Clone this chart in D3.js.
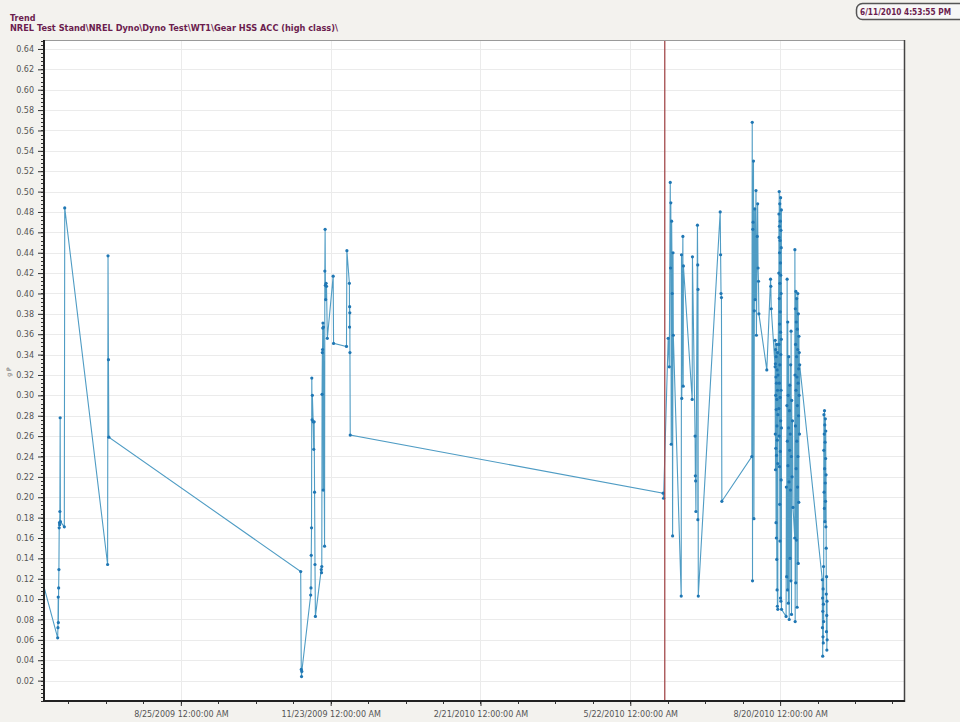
<!DOCTYPE html>
<html>
<head>
<meta charset="utf-8">
<script src="https://cdn.jsdelivr.net/npm/d3@7"></script>
<style>
body { margin: 0; background: #f3f2ee; }
svg { display: block; font-family: "DejaVu Sans", Verdana, sans-serif; }
</style>
</head>
<body>
<div id="chart"></div>
<script>
// trend of the gear HSS accelerometer, one reading = [time, g peak]
var june2009 = [
	["2009-06-02 12:00", 0.120],
	["2009-06-12 00:00", 0.062],
	["2009-06-12 04:00", 0.072],
	["2009-06-12 08:00", 0.102],
	["2009-06-12 10:00", 0.077],
	["2009-06-12 14:00", 0.111],
	["2009-06-12 18:00", 0.129],
	["2009-06-12 22:00", 0.170],
	["2009-06-13 02:00", 0.175],
	["2009-06-13 04:00", 0.173],
	["2009-06-13 08:00", 0.186],
	["2009-06-13 12:00", 0.278],
	["2009-06-13 16:00", 0.176],
	["2009-06-16 00:00", 0.171],
	["2009-06-16 06:00", 0.484]
];

var july2009 = [
	["2009-07-12 00:00", 0.134],
	["2009-07-12 06:00", 0.437],
	["2009-07-12 12:00", 0.335],
	["2009-07-12 18:00", 0.259]
];

var nov2009 = [
	["2009-11-05 00:00", 0.127],
	["2009-11-05 08:00", 0.031],
	["2009-11-05 12:00", 0.024],
	["2009-11-05 16:00", 0.029],
	["2009-11-11 00:00", 0.104],
	["2009-11-11 04:00", 0.111],
	["2009-11-11 08:00", 0.143],
	["2009-11-11 12:00", 0.170],
	["2009-11-11 16:00", 0.317],
	["2009-11-11 20:00", 0.276],
	["2009-11-12 00:00", 0.300],
	["2009-11-12 12:00", 0.274],
	["2009-11-12 20:00", 0.247],
	["2009-11-13 02:00", 0.274],
	["2009-11-13 08:00", 0.205],
	["2009-11-13 14:00", 0.134],
	["2009-11-13 20:00", 0.083],
	["2009-11-17 08:00", 0.129],
	["2009-11-17 12:00", 0.126],
	["2009-11-17 16:00", 0.132],
	["2009-11-17 20:00", 0.301],
	["2009-11-18 00:00", 0.342],
	["2009-11-18 03:00", 0.345],
	["2009-11-18 06:00", 0.366],
	["2009-11-18 09:00", 0.371],
	["2009-11-18 12:00", 0.207],
	["2009-11-18 16:00", 0.367],
	["2009-11-19 08:00", 0.152],
	["2009-11-19 12:00", 0.422],
	["2009-11-19 16:00", 0.463],
	["2009-11-19 20:00", 0.408],
	["2009-11-20 00:00", 0.394],
	["2009-11-20 06:00", 0.410],
	["2009-11-20 12:00", 0.407],
	["2009-11-21 00:00", 0.356],
	["2009-11-24 12:00", 0.417],
	["2009-11-24 18:00", 0.351],
	["2009-12-02 12:00", 0.348],
	["2009-12-02 18:00", 0.442],
	["2009-12-04 06:00", 0.410],
	["2009-12-04 08:00", 0.367],
	["2009-12-04 10:00", 0.387],
	["2009-12-04 12:00", 0.381],
	["2009-12-04 14:00", 0.342],
	["2009-12-04 18:00", 0.261]
];

var june2010 = [
	["2010-06-10 18:00", 0.204],
	["2010-06-11 00:00", 0.199],
	["2010-06-13 18:00", 0.356],
	["2010-06-14 10:00", 0.328],
	["2010-06-15 00:00", 0.509],
	["2010-06-15 04:00", 0.425],
	["2010-06-15 08:00", 0.489],
	["2010-06-15 14:00", 0.252],
	["2010-06-15 20:00", 0.471],
	["2010-06-16 04:00", 0.400],
	["2010-06-16 10:00", 0.162],
	["2010-06-16 16:00", 0.440],
	["2010-06-16 20:00", 0.359],
	["2010-06-21 14:00", 0.103],
	["2010-06-21 18:00", 0.438],
	["2010-06-21 22:00", 0.297],
	["2010-06-22 14:00", 0.456],
	["2010-06-22 18:00", 0.309],
	["2010-06-22 22:00", 0.427],
	["2010-06-28 04:00", 0.296],
	["2010-06-28 08:00", 0.436],
	["2010-06-29 22:00", 0.260],
	["2010-06-30 02:00", 0.221],
	["2010-06-30 06:00", 0.216],
	["2010-06-30 10:00", 0.186],
	["2010-07-01 08:00", 0.467],
	["2010-07-01 12:00", 0.428],
	["2010-07-01 14:00", 0.178],
	["2010-07-01 16:00", 0.404],
	["2010-07-01 20:00", 0.103],
	["2010-07-15 00:00", 0.480],
	["2010-07-15 06:00", 0.438],
	["2010-07-15 12:00", 0.400],
	["2010-07-15 18:00", 0.396],
	["2010-07-16 00:00", 0.196]
];

var aug2010 = [
	["2010-08-03 00:00", 0.240],
	["2010-08-03 06:00", 0.568],
	["2010-08-03 10:00", 0.118],
	["2010-08-03 14:00", 0.463],
	["2010-08-03 18:00", 0.470],
	["2010-08-04 00:00", 0.530],
	["2010-08-04 06:00", 0.179],
	["2010-08-04 12:00", 0.383],
	["2010-08-04 18:00", 0.483],
	["2010-08-05 00:00", 0.394],
	["2010-08-05 12:00", 0.501],
	["2010-08-05 18:00", 0.359],
	["2010-08-06 06:00", 0.456],
	["2010-08-06 12:00", 0.488],
	["2010-08-06 18:00", 0.425],
	["2010-08-07 00:00", 0.412],
	["2010-08-07 06:00", 0.380],
	["2010-08-12 00:00", 0.325],
	["2010-08-14 06:00", 0.414],
	["2010-08-14 10:00", 0.407],
	["2010-08-14 16:00", 0.385],
	["2010-08-17 00:00", 0.328],
	["2010-08-17 01:00", 0.354],
	["2010-08-17 02:30", 0.262],
	["2010-08-17 04:00", 0.331],
	["2010-08-17 05:30", 0.227],
	["2010-08-17 07:00", 0.345],
	["2010-08-17 08:30", 0.300],
	["2010-08-17 10:00", 0.248],
	["2010-08-17 11:30", 0.318],
	["2010-08-17 13:00", 0.175],
	["2010-08-17 14:30", 0.338],
	["2010-08-17 16:00", 0.286],
	["2010-08-17 17:30", 0.160],
	["2010-08-17 19:00", 0.312],
	["2010-08-17 20:30", 0.241],
	["2010-08-17 22:00", 0.350],
	["2010-08-17 23:30", 0.139],
	["2010-08-18 01:00", 0.296],
	["2010-08-18 02:30", 0.270],
	["2010-08-18 04:00", 0.109],
	["2010-08-18 05:30", 0.325],
	["2010-08-18 07:00", 0.256],
	["2010-08-18 08:30", 0.093],
	["2010-08-18 10:00", 0.305],
	["2010-08-18 11:30", 0.342],
	["2010-08-18 13:00", 0.233],
	["2010-08-18 14:30", 0.090],
	["2010-08-18 16:00", 0.281],
	["2010-08-18 17:30", 0.320],
	["2010-08-19 05:00", 0.420],
	["2010-08-19 06:00", 0.287],
	["2010-08-19 07:00", 0.478],
	["2010-08-19 08:00", 0.350],
	["2010-08-19 09:00", 0.455],
	["2010-08-19 10:00", 0.260],
	["2010-08-19 11:00", 0.500],
	["2010-08-19 12:00", 0.395],
	["2010-08-19 13:00", 0.312],
	["2010-08-19 14:00", 0.466],
	["2010-08-19 15:00", 0.230],
	["2010-08-19 16:00", 0.440],
	["2010-08-19 17:00", 0.370],
	["2010-08-19 18:00", 0.193],
	["2010-08-19 19:00", 0.488],
	["2010-08-19 20:00", 0.330],
	["2010-08-19 21:00", 0.410],
	["2010-08-19 22:00", 0.157],
	["2010-08-19 23:00", 0.452],
	["2010-08-20 00:00", 0.298],
	["2010-08-20 01:00", 0.382],
	["2010-08-20 02:00", 0.471],
	["2010-08-20 03:00", 0.245],
	["2010-08-20 04:00", 0.430],
	["2010-08-20 05:00", 0.101],
	["2010-08-20 06:00", 0.362],
	["2010-08-20 07:00", 0.494],
	["2010-08-20 08:00", 0.275],
	["2010-08-20 09:00", 0.418],
	["2010-08-20 10:00", 0.340],
	["2010-08-20 11:00", 0.098],
	["2010-08-20 12:00", 0.462],
	["2010-08-20 13:00", 0.305],
	["2010-08-20 14:00", 0.400],
	["2010-08-20 15:00", 0.217],
	["2010-08-20 16:00", 0.445],
	["2010-08-20 17:00", 0.355],
	["2010-08-20 18:00", 0.482],
	["2010-08-20 19:00", 0.268],
	["2010-08-20 20:00", 0.090],
	["2010-08-23 14:00", 0.083],
	["2010-08-23 18:00", 0.210],
	["2010-08-23 22:00", 0.122],
	["2010-08-24 02:00", 0.290],
	["2010-08-24 05:00", 0.414],
	["2010-08-24 08:00", 0.255],
	["2010-08-24 11:00", 0.109],
	["2010-08-24 14:00", 0.372],
	["2010-08-24 17:00", 0.231],
	["2010-08-24 20:00", 0.300],
	["2010-08-24 23:00", 0.096],
	["2010-08-25 02:00", 0.268],
	["2010-08-25 05:00", 0.338],
	["2010-08-25 08:00", 0.215],
	["2010-08-25 11:00", 0.080],
	["2010-08-25 14:00", 0.285],
	["2010-08-25 17:00", 0.246],
	["2010-08-25 20:00", 0.310],
	["2010-08-25 23:00", 0.140],
	["2010-08-26 02:00", 0.262],
	["2010-08-26 05:00", 0.207],
	["2010-08-26 08:00", 0.330],
	["2010-08-26 11:00", 0.118],
	["2010-08-26 14:00", 0.363],
	["2010-08-26 17:00", 0.240],
	["2010-08-26 20:00", 0.085],
	["2010-08-26 23:00", 0.295],
	["2010-08-27 04:00", 0.220],
	["2010-08-27 10:00", 0.275],
	["2010-08-27 18:00", 0.190],
	["2010-08-28 19:00", 0.160],
	["2010-08-28 21:00", 0.443],
	["2010-08-28 23:00", 0.320],
	["2010-08-29 01:00", 0.078],
	["2010-08-29 03:00", 0.385],
	["2010-08-29 05:00", 0.270],
	["2010-08-29 07:00", 0.350],
	["2010-08-29 09:00", 0.116],
	["2010-08-29 11:00", 0.402],
	["2010-08-29 13:00", 0.305],
	["2010-08-29 15:00", 0.228],
	["2010-08-29 17:00", 0.372],
	["2010-08-29 19:00", 0.158],
	["2010-08-29 21:00", 0.338],
	["2010-08-29 23:00", 0.395],
	["2010-08-30 01:00", 0.255],
	["2010-08-30 03:00", 0.318],
	["2010-08-30 05:00", 0.092],
	["2010-08-30 07:00", 0.365],
	["2010-08-30 09:00", 0.290],
	["2010-08-30 11:00", 0.210],
	["2010-08-30 13:00", 0.345],
	["2010-08-30 15:00", 0.400],
	["2010-08-30 17:00", 0.240],
	["2010-08-30 19:00", 0.312],
	["2010-08-30 21:00", 0.135],
	["2010-08-30 23:00", 0.380],
	["2010-08-31 01:00", 0.280],
	["2010-08-31 03:00", 0.326],
	["2010-08-31 05:00", 0.195],
	["2010-08-31 07:00", 0.358],
	["2010-08-31 09:00", 0.300],
	["2010-08-31 12:00", 0.342],
	["2010-08-31 15:00", 0.262],
	["2010-08-31 18:00", 0.330]
];

var sep2010 = [
	["2010-09-14 08:00", 0.119],
	["2010-09-14 10:00", 0.072],
	["2010-09-14 12:00", 0.101],
	["2010-09-14 14:00", 0.044],
	["2010-09-14 16:00", 0.088],
	["2010-09-14 18:00", 0.063],
	["2010-09-14 20:00", 0.110],
	["2010-09-14 22:00", 0.057],
	["2010-09-15 00:00", 0.095],
	["2010-09-15 02:00", 0.132],
	["2010-09-15 04:00", 0.078],
	["2010-09-15 06:00", 0.246],
	["2010-09-15 08:00", 0.281],
	["2010-09-15 10:00", 0.205],
	["2010-09-15 12:00", 0.262],
	["2010-09-15 14:00", 0.189],
	["2010-09-15 16:00", 0.285],
	["2010-09-15 18:00", 0.228],
	["2010-09-15 20:00", 0.271],
	["2010-09-15 22:00", 0.176],
	["2010-09-16 00:00", 0.254],
	["2010-09-16 02:00", 0.214],
	["2010-09-16 04:00", 0.277],
	["2010-09-16 06:00", 0.196],
	["2010-09-16 08:00", 0.238],
	["2010-09-16 10:00", 0.265],
	["2010-09-16 12:00", 0.171],
	["2010-09-16 14:00", 0.222],
	["2010-09-16 16:00", 0.150],
	["2010-09-16 18:00", 0.105],
	["2010-09-16 20:00", 0.068],
	["2010-09-16 22:00", 0.122],
	["2010-09-17 00:00", 0.084],
	["2010-09-17 02:00", 0.050],
	["2010-09-17 04:00", 0.098],
	["2010-09-17 06:00", 0.060]
];

var xTickDates = ["2009-08-25", "2009-11-23", "2010-02-21", "2010-05-22", "2010-08-20"];
var yTickValues = [0.02, 0.04, 0.06, 0.08, 0.10, 0.12, 0.14, 0.16, 0.18, 0.20, 0.22,
	0.24, 0.26, 0.28, 0.30, 0.32, 0.34, 0.36, 0.38, 0.40, 0.42, 0.44, 0.46, 0.48,
	0.50, 0.52, 0.54, 0.56, 0.58, 0.60, 0.62, 0.64];
var timeDomain = ["2009-06-03 19:00", "2010-11-02 10:00"];
var cursorTime = "2010-06-11 16:53";
var cursorLabel = "6/11/2010 4:53:55 PM";
var titleLines = ["Trend", "NREL Test Stand\\NREL Dyno\\Dyno Test\\WT1\\Gear HSS ACC (high class)\\"];

var width = 960,
	height = 722,
	LEFT = 44,
	RIGHT = 904,
	TOP = 40,
	BOTTOM = 701,
	TITLE_COLOR = "#6b1d4e",
	LINE_COLOR = "#4f9cc4",
	DOT_COLOR = "#1f77b4";

var parseTime = d3.timeParse("%Y-%m-%d %H:%M"),
	parseDay = d3.timeParse("%Y-%m-%d"),
	formatTick = d3.timeFormat("%-m/%-d/%Y %-I:%M:%S %p");

var readings = [].concat(june2009, july2009, nov2009, june2010, aug2010, sep2010)
	.map(function(d) { return { t: parseTime(d[0]), v: d[1] }; });

var x = d3.scaleTime()
	.domain(timeDomain.map(parseTime))
	.range([LEFT, RIGHT]);

var y = d3.scaleLinear()
	.domain([0, 0.6488])
	.range([BOTTOM, TOP]);

var svg = d3.select("#chart").append("svg")
	.attr("width", width)
	.attr("height", height);

svg.append("rect")
	.attr("width", width)
	.attr("height", height)
	.style("fill", "#f3f2ee");

// header text
svg.selectAll(".title")
	.data(titleLines)
	.enter()
	.append("text")
	.attr("x", 10)
	.attr("y", function(d, i) { return 21 + i * 10; })
	.attr("textLength", function(d, i) { return i ? 328 : null; })
	.attr("lengthAdjust", "spacingAndGlyphs")
	.text(function(d) { return d; })
	.style("fill", TITLE_COLOR)
	.style("font-size", "8px")
	.style("font-weight", "bold");

// timestamp of the cursor, top right (the box runs off the page edge)
svg.append("rect")
	.attr("x", 856.5)
	.attr("y", 3.5)
	.attr("width", 130)
	.attr("height", 16)
	.attr("rx", 6)
	.style("fill", "#f7f7f7")
	.style("stroke", "#555")
	.style("stroke-width", 1.5);

svg.append("text")
	.attr("x", 860)
	.attr("y", 15)
	.attr("textLength", 91)
	.attr("lengthAdjust", "spacingAndGlyphs")
	.text(cursorLabel)
	.style("fill", TITLE_COLOR)
	.style("font-size", "8px")
	.style("font-weight", "bold");

// plot area
svg.append("rect")
	.attr("x", LEFT)
	.attr("y", TOP)
	.attr("width", RIGHT - LEFT)
	.attr("height", BOTTOM - TOP)
	.style("fill", "#fff");

svg.append("clipPath")
	.attr("id", "plot-clip")
	.append("rect")
	.attr("x", LEFT)
	.attr("y", TOP)
	.attr("width", RIGHT - LEFT)
	.attr("height", BOTTOM - TOP);

var grid = svg.append("g").attr("id", "grid");

grid.selectAll(".hgrid")
	.data(yTickValues)
	.enter()
	.append("line")
	.attr("x1", LEFT)
	.attr("x2", RIGHT)
	.attr("y1", function(d) { return Math.round(y(d)) + 0.5; })
	.attr("y2", function(d) { return Math.round(y(d)) + 0.5; })
	.style("stroke", "#ebebeb");

grid.selectAll(".vgrid")
	.data(xTickDates.map(parseDay))
	.enter()
	.append("line")
	.attr("x1", function(d) { return Math.round(x(d)) + 0.5; })
	.attr("x2", function(d) { return Math.round(x(d)) + 0.5; })
	.attr("y1", TOP)
	.attr("y2", BOTTOM)
	.style("stroke", "#ebebeb");

// y axis: labelled ticks every 0.02 and a ruler of small ticks
var yMinor = d3.range(0, 0.649, 0.004);

svg.append("g")
	.selectAll("line")
	.data(yMinor)
	.enter()
	.append("line")
	.attr("x1", LEFT - 3)
	.attr("x2", LEFT)
	.attr("y1", function(d) { return Math.round(y(d)) + 0.5; })
	.attr("y2", function(d) { return Math.round(y(d)) + 0.5; })
	.style("stroke", "#333");

svg.append("g")
	.attr("transform", "translate(" + LEFT + ",0)")
	.call(d3.axisLeft(y)
		.tickValues(yTickValues)
		.tickSize(6)
		.tickPadding(4)
		.tickFormat(d3.format(".2f")))
	.call(function(g) {
		g.select(".domain").remove();
		g.selectAll("line").style("stroke", "#333");
		g.selectAll("text")
			.style("fill", "#555")
			.style("font-size", "8px")
			.style("font-family", "DejaVu Sans, sans-serif");
	});

// x axis: labels every 90 days, small ticks every 22.5 days
var xBase = parseDay(xTickDates[0]);
var xMinor = d3.range(-4, 20).map(function(k) {
	return d3.timeHour.offset(xBase, k * 540);
});

svg.append("g")
	.selectAll("line")
	.data(xMinor.filter(function(d) { return x(d) > LEFT && x(d) < RIGHT; }))
	.enter()
	.append("line")
	.attr("x1", function(d) { return Math.round(x(d)) + 0.5; })
	.attr("x2", function(d) { return Math.round(x(d)) + 0.5; })
	.attr("y1", BOTTOM)
	.attr("y2", BOTTOM + 3)
	.style("stroke", "#333");

svg.append("g")
	.attr("transform", "translate(0," + BOTTOM + ")")
	.call(d3.axisBottom(x)
		.tickValues(xTickDates.map(parseDay))
		.tickSize(5)
		.tickPadding(5)
		.tickFormat(formatTick))
	.call(function(g) {
		g.select(".domain").remove();
		g.selectAll("line").style("stroke", "#333");
		g.selectAll("text")
			.style("fill", "#555")
			.style("font-size", "8px")
			.style("font-family", "DejaVu Sans, sans-serif");
	});

// unit label
svg.append("text")
	.attr("transform", "translate(11,372) rotate(-90)")
	.attr("text-anchor", "middle")
	.text("g P")
	.style("fill", "#666")
	.style("font-size", "6px");

// the trend itself
var plot = svg.append("g").attr("clip-path", "url(#plot-clip)");

var line = d3.line()
	.x(function(d) { return x(d.t); })
	.y(function(d) { return y(d.v); });

plot.append("path")
	.datum(readings)
	.attr("d", line)
	.style("fill", "none")
	.style("stroke", LINE_COLOR)
	.style("stroke-width", 1.1);

plot.selectAll(".dot")
	.data(readings)
	.enter()
	.append("circle")
	.attr("cx", function(d) { return x(d.t); })
	.attr("cy", function(d) { return y(d.v); })
	.attr("r", 1.6)
	.style("fill", DOT_COLOR);

// cursor
plot.append("line")
	.attr("x1", x(parseTime(cursorTime)))
	.attr("x2", x(parseTime(cursorTime)))
	.attr("y1", TOP)
	.attr("y2", BOTTOM)
	.style("stroke", "#a3494b")
	.style("stroke-width", 1.3);

// frame
svg.append("line")
	.attr("x1", LEFT).attr("x2", RIGHT)
	.attr("y1", TOP + 0.5).attr("y2", TOP + 0.5)
	.style("stroke", "#9a9a9a");
svg.append("line")
	.attr("x1", RIGHT + 0.5).attr("x2", RIGHT + 0.5)
	.attr("y1", TOP).attr("y2", BOTTOM + 1)
	.style("stroke", "#444")
	.style("stroke-width", 1.5);
svg.append("line")
	.attr("x1", LEFT).attr("x2", LEFT)
	.attr("y1", TOP).attr("y2", BOTTOM + 1)
	.style("stroke", "#222")
	.style("stroke-width", 2);
svg.append("line")
	.attr("x1", LEFT - 1).attr("x2", RIGHT + 1)
	.attr("y1", BOTTOM).attr("y2", BOTTOM)
	.style("stroke", "#222")
	.style("stroke-width", 2);
</script>
</body>
</html>
